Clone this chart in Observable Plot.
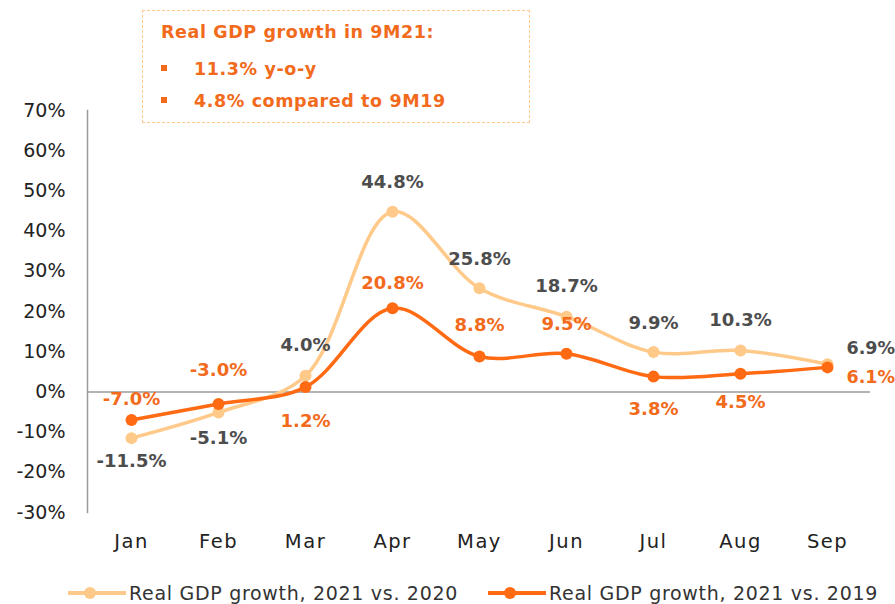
<!DOCTYPE html>
<html>
<head>
<meta charset="utf-8">
<script src="https://cdn.jsdelivr.net/npm/d3@7"></script>
<script src="https://cdn.jsdelivr.net/npm/@observablehq/plot@0.6"></script>
<style>
  body { margin: 0; background: #fff; font-family: "DejaVu Sans", sans-serif; }
  #wrap { position: relative; width: 895px; height: 604px; overflow: hidden; }
  #note { position: absolute; left: 142px; top: 10px; width: 388px; height: 113px; border: 1.5px dashed #FFC98A; box-sizing: border-box; color: #F26A1B; font-weight: 700; letter-spacing: 0.6px; }
  #note .t { position: absolute; left: 18px; top: 11px; font-size: 17.5px; }
  #note .b { position: absolute; left: 18px; font-size: 17.5px; }
  #note .b span.sq { display: inline-block; width: 6px; height: 6px; background: #F26A1B; vertical-align: middle; margin-right: 27px; position: relative; top: -2px; }
  #legend { position: absolute; left: 0; top: 579px; width: 895px; height: 30px; font-size: 19px; color: #333; letter-spacing: 0.7px; }
  .li { position: absolute; top: 2px; display: flex; align-items: center; }
  .sw { position: relative; width: 58px; height: 24px; margin-right: 3px; }
  .sw .ln { position: absolute; left: 0; right: 0; top: 10px; height: 4px; }
  .sw .dt { position: absolute; left: 16px; top: 6px; width: 12px; height: 12px; border-radius: 50%; }
  svg { position: absolute; left: 0; top: 0; }
  svg g[aria-label="x-axis tick label"] text { letter-spacing: 1.5px; }
</style>
</head>
<body>
<div id="wrap">
  <div id="chart"></div>
  <div id="note"></div>
  <div id="legend"></div>
</div>
<script>
const months = ["Jan","Feb","Mar","Apr","May","Jun","Jul","Aug","Sep"];
const growthVs2020 = [-11.5, -5.1, 4.0, 44.8, 25.8, 18.7, 9.9, 10.3, 6.9];
const growthVs2019 = [-7.0, -3.0, 1.2, 20.8, 8.8, 9.5, 3.8, 4.5, 6.1];
const yTicks = [-30, -20, -10, 0, 10, 20, 30, 40, 50, 60, 70];
const seriesNames = ["Real GDP growth, 2021 vs. 2020", "Real GDP growth, 2021 vs. 2019"];
const noteTitle = "Real GDP growth in 9M21:";
const noteBullets = ["11.3% y-o-y", "4.8% compared to 9M19"];

// label placement (style only): [dx, dy, anchor]
const off2020 = [[0,23],[0,26],[0,-31],[0,-30],[0,-29],[0,-30],[0,-29],[0,-30],[19,-16,"start"]];
const off2019 = [[0,-21],[0,-34],[0,34],[0,-25],[0,-31],[0,-29],[0,33],[0,28],[19,10,"start"]];

const light = "#FFC98A", dark = "#FF6A13";
const grayText = "#4D4D4D", orangeText = "#F26A1B";

const d20 = months.map((m,i) => ({month: m, v: growthVs2020[i]}));
const d19 = months.map((m,i) => ({month: m, v: growthVs2019[i]}));

const labelMarks = [];
function addLabels(data, offs, color) {
  data.forEach((d,i) => {
    const o = offs[i];
    labelMarks.push(Plot.text([d], {
      x: "month", y: "v", text: d => d.v.toFixed(1) + "%",
      dx: o[0], dy: o[1], textAnchor: o[2] || "middle",
      fill: color, fontWeight: 700, fontSize: o[2] ? 17.5 : 18
    }));
  });
}
addLabels(d20, off2020, grayText);
addLabels(d19, off2019, orangeText);

const chart = Plot.plot({
  width: 895,
  height: 578,
  marginLeft: 87,
  marginRight: 25,
  marginTop: 110,
  marginBottom: 66,
  style: {fontFamily: "DejaVu Sans, sans-serif", background: "transparent", overflow: "visible"},
  x: {type: "point", domain: months, padding: 0.5, label: null},
  y: {domain: [-30, 70], label: null},
  marks: [
    Plot.axisY(yTicks, {tickSize: 0, tickPadding: 22, tickFormat: d => d + "%", fontSize: 19, fill: "#222", label: null}),
    Plot.axisX(months, {tickSize: 0, tickPadding: 22, fontSize: 19.5, fill: "#222", label: null}),
    Plot.frame({anchor: "left", stroke: "#9a9a9a", strokeWidth: 1.5}),
    Plot.ruleY([0], {stroke: "#9a9a9a", strokeWidth: 1.5}),
    Plot.line(d20, {x: "month", y: "v", stroke: light, strokeWidth: 3.5, curve: "catmull-rom"}),
    Plot.dot(d20, {x: "month", y: "v", fill: light, r: 6}),
    Plot.line(d19, {x: "month", y: "v", stroke: dark, strokeWidth: 3.5, curve: "catmull-rom"}),
    Plot.dot(d19, {x: "month", y: "v", fill: dark, r: 6}),
    ...labelMarks
  ]
});
document.getElementById("chart").appendChild(chart);

// note box
const note = document.getElementById("note");
const t = document.createElement("div"); t.className = "t"; t.textContent = noteTitle; note.appendChild(t);
noteBullets.forEach((b,i) => {
  const el = document.createElement("div"); el.className = "b"; el.style.top = (48 + i*32) + "px";
  const sq = document.createElement("span"); sq.className = "sq"; el.appendChild(sq);
  el.appendChild(document.createTextNode(b));
  note.appendChild(el);
});

// legend
const legend = document.getElementById("legend");
const lefts = [68, 488];
const cols = [light, dark];
seriesNames.forEach((name,i) => {
  const item = document.createElement("div"); item.className = "li"; item.style.left = lefts[i] + "px";
  const sw = document.createElement("div"); sw.className = "sw";
  const ln = document.createElement("div"); ln.className = "ln"; ln.style.background = cols[i];
  const dt = document.createElement("div"); dt.className = "dt"; dt.style.background = cols[i];
  sw.appendChild(ln); sw.appendChild(dt); item.appendChild(sw);
  const tx = document.createElement("span"); tx.textContent = name; item.appendChild(tx);
  legend.appendChild(item);
});
</script>
</body>
</html>
